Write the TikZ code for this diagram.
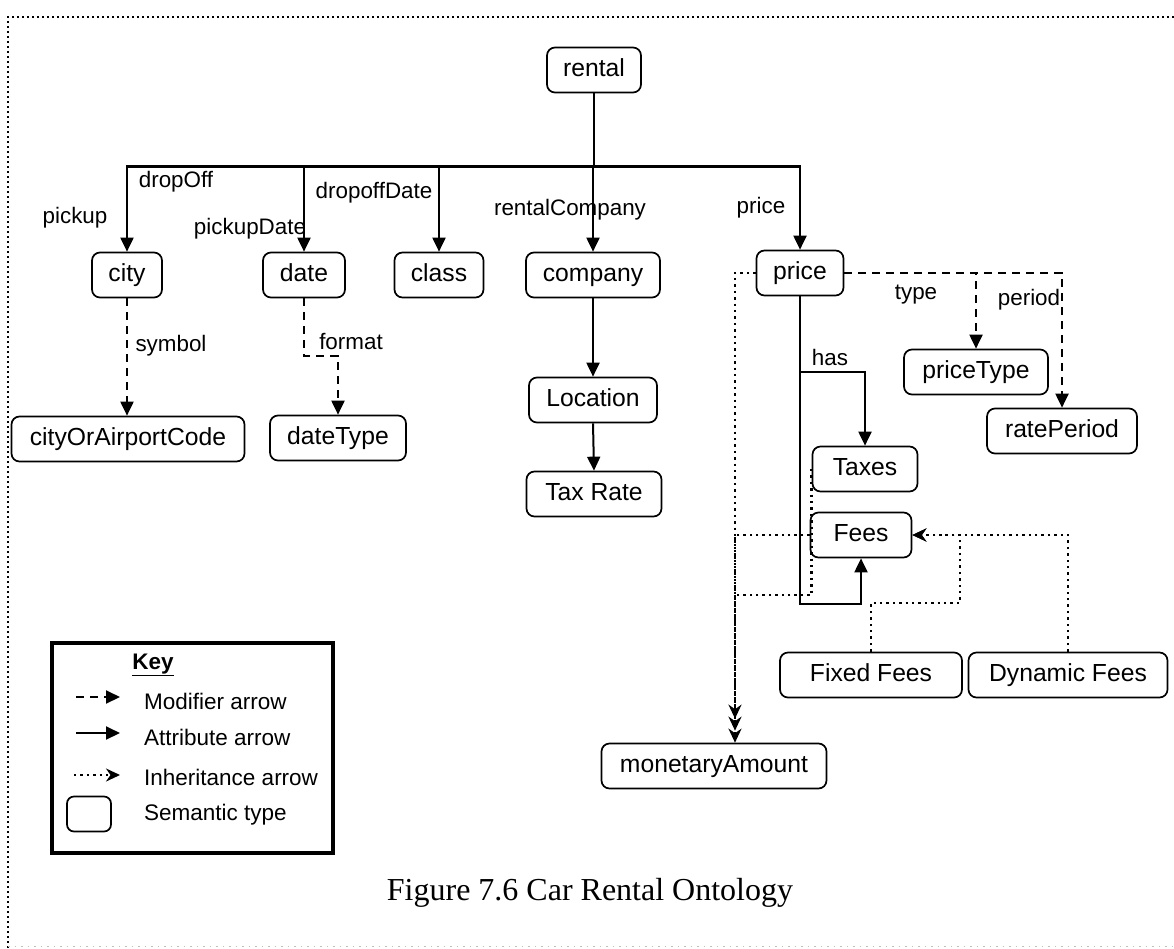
\documentclass[tikz,border=0pt]{standalone}
\usepackage{fontspec}
\setmainfont{Liberation Sans}
\newfontfamily\capfont{Liberation Serif}
\usetikzlibrary{arrows.meta}
\begin{document}
\begin{tikzpicture}[x=1pt,y=-1pt,
  box/.style={draw,rounded corners=8pt,line width=1.7pt,minimum height=45pt,inner xsep=0pt,inner ysep=0pt,text height=17.5pt,text depth=5pt,font=\fontsize{24.7}{28}\selectfont},
  lab/.style={font=\fontsize{22.4}{26}\selectfont,inner sep=0pt},
  keytxt/.style={font=\fontsize{22.5}{26}\selectfont,inner sep=0pt,anchor=west},
  attr/.style={line width=2pt,-{Triangle[length=14pt,width=13pt]}},
  modarr/.style={line width=2pt,dash pattern=on 8pt off 6pt,-{Triangle[length=14pt,width=13pt]}},
  inh/.style={line width=2.6pt,dash pattern=on 2.4pt off 4pt,-{Stealth[length=14pt,width=13pt]}},
  frame/.style={line width=2.2pt,dash pattern=on 1.8pt off 3.2pt},
]
\useasboundingbox (0,0) rectangle (1174,948);
% frame
\draw[frame] (1174,17) -- (8,17) -- (8,948);
\draw[gray!50,line width=1pt,dash pattern=on 1.5pt off 5pt] (8,946) -- (1174,946);

% nodes
\node[box,minimum width=94pt] (rental) at (594,70) {rental};
\node[box,minimum width=70pt] (city) at (127,275) {city};
\node[box,minimum width=82pt] (date) at (304,275) {date};
\node[box,minimum width=89pt] (class) at (439,275) {class};
\node[box,minimum width=134pt] (company) at (593,275) {company};
\node[box,minimum width=87pt] (price) at (800,273) {price};
\node[box,minimum width=233pt] (code) at (128,439) {cityOrAirportCode};
\node[box,minimum width=136pt] (datetype) at (338,438) {dateType};
\node[box,minimum width=128pt] (location) at (593,400) {Location};
\node[box,minimum width=135pt] (taxrate) at (594,494) {Tax Rate};
\node[box,minimum width=144pt] (pricetype) at (976,372) {priceType};
\node[box,minimum width=150pt] (rateperiod) at (1062,431) {ratePeriod};
\node[box,minimum width=105pt] (taxes) at (865,469) {Taxes};
\node[box,minimum width=101pt] (fees) at (861,535) {Fees};
\node[box,minimum width=182pt] (fixed) at (871,675) {Fixed Fees};
\node[box,minimum width=199pt] (dynamic) at (1068,675) {Dynamic Fees};
\node[box,minimum width=225pt] (money) at (714,766) {monetaryAmount};

% helper coordinates
\coordinate (bus) at (594,166);
\coordinate (dbend) at (0,356);
\coordinate (hasy) at (0,372);
\coordinate (feesy) at (0,604);
\coordinate (inhx) at (735,0);
\coordinate (taxy) at (0,595);
\coordinate (ffy) at (0,603);
\coordinate (ffx) at (960,0);

% top tree
\draw[line width=3pt] (city.north |- bus) -- (price.north |- bus);
\draw[line width=2pt] (rental.south) -- (bus);
\foreach \n in {city,date,class,company,price}
  \draw[attr] (bus) -| (\n.north);

% edge labels
\node[lab] (l-dropoff) at (176,182) {dropOff};
\node[lab] (l-pickup) at (75,218) {pickup};
\node[lab] (l-pickupdate) at (250,229) {pickupDate};
\node[lab] (l-dropoffdate) at (374,193) {dropoffDate};
\node[lab] (l-rentalco) at (570,210) {rentalCompany};
\node[lab] (l-price) at (761,208) {price};

% modifiers
\draw[modarr] (city.south) -- (code.north -| city.south);
\node[lab] (l-symbol) at (171,346) {symbol};
\draw[modarr] (date.south) -- (date.south |- dbend) -| (datetype.north);
\node[lab] (l-format) at (351,341) {format};
\draw[modarr] (price.east) -| (pricetype.north);
\draw[modarr] (price.east) -| (rateperiod.north);
\node[lab] (l-type) at (916,295) {type};
\node[lab] (l-period) at (1029,300) {period};

% attributes
\draw[attr] (company.south) -- (location.north);
\draw[attr] (location.south) -- (taxrate.north);
\draw[attr] (price.south) -- (price.south |- hasy) -| (taxes.north);
\draw[attr] (price.south) -- (price.south |- feesy) -| (fees.south);
\node[lab] (l-has) at (830,357) {has};

% inheritance
\draw[inh] (price.west) -| (money.north -| inhx);
\draw[inh,shorten >=12pt] (fees.west) -| (money.north -| inhx);
\draw[inh,shorten >=24pt] (taxes.west) -- (taxes.west |- taxy) -| (money.north -| inhx);
\draw[inh] (fixed.north) -- (fixed.north |- ffy) -| (ffx |- fees.east) -- (fees.east);
\draw[inh] (dynamic.north) |- (fees.east);

% key
\node[draw,line width=4pt,minimum width=281pt,minimum height=210pt,inner sep=0pt] (key) at (192.5,748) {};
\node[font=\fontsize{22.5}{26}\selectfont\bfseries,inner sep=0pt] (keytitle) at (153,665) {\underline{Key}};
\coordinate (k1a) at (76,697); \coordinate (k1b) at (120,697);
\coordinate (k2a) at (76,733); \coordinate (k2b) at (120,733);
\coordinate (k3a) at (74,775); \coordinate (k3b) at (120,775);
\draw[modarr] (k1a) -- (k1b);
\draw[attr] (k2a) -- (k2b);
\draw[inh] (k3a) -- (k3b);
\node[draw,rounded corners=7pt,line width=1.7pt,minimum width=44pt,minimum height=35pt,inner sep=0pt] (ksem) at (89,814) {};
\node[keytxt] (kt1) at (144,701) {Modifier arrow};
\node[keytxt] (kt2) at (144,737) {Attribute arrow};
\node[keytxt] (kt3) at (144,777) {Inheritance arrow};
\node[keytxt] (kt4) at (144,815) {Semantic type};

% caption
\node[font=\capfont\fontsize{32}{36}\selectfont,inner sep=0pt] (caption) at (590,893) {Figure 7.6 Car Rental Ontology};
\end{tikzpicture}
\end{document}
